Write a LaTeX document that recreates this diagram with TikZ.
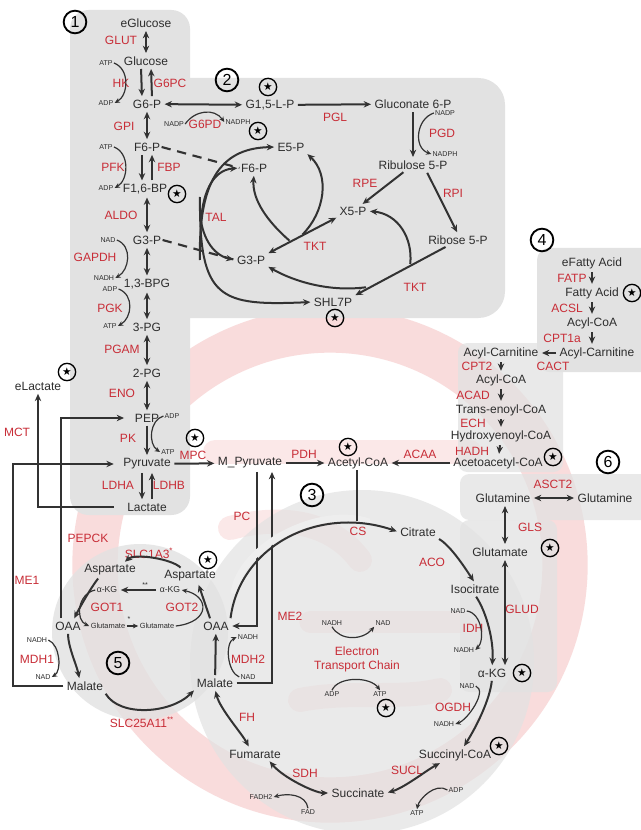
\documentclass[tikz,border=0pt]{standalone}
\usepackage{fontspec}
\setmainfont{Liberation Sans}
\newfontfamily\djv{DejaVu Sans}
\usetikzlibrary{arrows.meta,calc}
\definecolor{enz}{RGB}{200,45,55}
\definecolor{mtx}{RGB}{45,45,45}
\definecolor{arcol}{RGB}{50,50,50}
\definecolor{panel}{RGB}{226,226,226}
\definecolor{mito}{RGB}{225,80,80}
\begin{document}
\begin{tikzpicture}[x=0.75pt,y=-0.75pt,
  met/.style={text=mtx,font=\fontsize{9}{10}\selectfont,inner sep=1pt},
  smet/.style={text=mtx,font=\fontsize{6.5}{7}\selectfont,inner sep=1pt},
  tmet/.style={text=mtx,font=\fontsize{5.6}{6}\selectfont,inner sep=1pt},
  enzl/.style={text=enz,font=\fontsize{9}{10}\selectfont,inner sep=1pt},
  cof/.style={text=mtx,font=\fontsize{5.3}{6}\selectfont,inner sep=0.8pt},
  num/.style={circle,draw=black,line width=1.4pt,minimum size=17pt,inner sep=0pt,font=\fontsize{12}{12}\selectfont},
  starc/.style={circle,draw=black,line width=1pt,minimum size=13pt,inner sep=0pt,font=\djv\fontsize{8}{8}\selectfont},
  ar/.style={draw=arcol,line width=1.5pt,shorten >=1.5pt,shorten <=1.5pt,-{Stealth[length=5.5pt,width=4.8pt]}},
  dar/.style={draw=arcol,line width=1.5pt,shorten >=1.5pt,shorten <=1.5pt,{Stealth[length=5.5pt,width=4.8pt]}-{Stealth[length=5.5pt,width=4.8pt]}},
  ln/.style={draw=arcol,line width=1.5pt},
  car/.style={draw=arcol,line width=0.9pt,-{Stealth[length=4pt,width=3.6pt]}},
  dsh/.style={draw=arcol,line width=1.6pt,dash pattern=on 7pt off 5pt},
]
\useasboundingbox (0,0) rectangle (641,830);
\fill[white] (0,0) rectangle (641,830);
% mitochondrion background
\draw[mito,opacity=0.2,line width=34pt] (330,565) circle (235);
\draw[mito,opacity=0.13,line width=18pt,line cap=round] (215,452) -- (470,452);
\draw[mito,opacity=0.13,line width=16pt,line cap=round] (310,622) -- (460,622);
\draw[mito,opacity=0.13,line width=18pt,line cap=round] (230,528) .. controls (280,515) and (330,520) .. (360,560);
\draw[mito,opacity=0.13,line width=18pt,line cap=round] (300,700) .. controls (350,690) and (400,700) .. (440,690);
% panels
\fill[panel,rounded corners=14pt] (70,10) rectangle (190,515);
\fill[panel,rounded corners=20pt] (160,78) rectangle (505,318);
\fill[panel,rounded corners=9pt] (537,248) rectangle (660,372);
\fill[panel,opacity=0.75,rounded corners=7pt] (458,343) rectangle (563,472);
\fill[panel,opacity=0.75,rounded corners=7pt] (460,474) rectangle (660,520);
\fill[panel,opacity=0.75,rounded corners=7pt] (460,520) rectangle (557,692);
\fill[panel,opacity=0.7] (362,662) circle (172);
\fill[panel,opacity=0.8] (140,632) circle (88);

% circled numbers
\node[num] (c1) at (75,22) {1};
\node[num] (c2) at (227,80) {2};
\node[num] (c3) at (312,495) {3};
\node[num] (c4) at (542,240) {4};
\node[num] (c5) at (118,663) {5};
\node[num] (c6) at (608,462) {6};

% stars
\node[starc] (s1) at (268,87) {★};
\node[starc] (s2) at (258,131) {★};
\node[starc] (s3) at (177,194) {★};
\node[starc] (s4) at (335,318) {★};
\node[starc] (s5) at (67,372) {★};
\node[starc] (s6) at (195,438) {★};
\node[starc] (s7) at (348,447) {★};
\node[starc] (s8) at (632,293) {★};
\node[starc] (s9) at (553,457) {★};
\node[starc] (s10) at (550,548) {★};
\node[starc] (s11) at (208,560) {★};
\node[starc] (s12) at (522,673) {★};
\node[starc] (s13) at (386,708) {★};
\node[starc] (s14) at (499,746) {★};

% glycolysis
\node[met] (eglc) at (146,23) {eGlucose};
\node[enzl] (glut) at (121,40) {GLUT};
\node[met] (glc) at (146,61) {Glucose};
\node[cof] (atp1) at (106,63) {ATP};
\node[enzl] (hk) at (121,83) {HK};
\node[enzl] (g6pc) at (170,83) {G6PC};
\node[cof] (adp1) at (106,103) {ADP};
\node[met] (g6p) at (147,104) {G6-P};
\node[enzl] (gpi) at (124,126) {GPI};
\node[met] (f6p) at (147,147) {F6-P};
\node[cof] (atp2) at (106,147) {ATP};
\node[enzl] (pfk) at (113,167) {PFK};
\node[enzl] (fbp) at (169,167) {FBP};
\node[cof] (adp2) at (106,188) {ADP};
\node[met] (f16bp) at (145,189) {F1,6-BP};
\node[enzl] (aldo) at (121,215) {ALDO};
\node[met] (g3p) at (147,240) {G3-P};
\node[cof] (nad1) at (108,240) {NAD};
\node[enzl] (gapdh) at (95,257) {GAPDH};
\node[cof] (nadh1) at (104,278) {NADH};
\node[met] (bpg) at (147,284) {1,3-BPG};
\node[cof] (adp3) at (110,289) {ADP};
\node[enzl] (pgk) at (110,308) {PGK};
\node[cof] (atp3) at (110,326) {ATP};
\node[met] (pg3) at (147,327) {3-PG};
\node[enzl] (pgam) at (122,349) {PGAM};
\node[met] (pg2) at (147,373) {2-PG};
\node[enzl] (eno) at (122,393) {ENO};
\node[met] (pep) at (147,418) {PEP};
\node[cof] (adp4) at (172,416) {ADP};
\node[enzl] (pk) at (128,438) {PK};
\node[cof] (atp4) at (168,452) {ATP};
\node[enzl] (mpc) at (193,455) {MPC};
\node[met] (pyr) at (147,464) {Pyruvate};
\node[enzl] (ldha) at (118,485) {LDHA};
\node[enzl] (ldhb) at (169,485) {LDHB};
\node[met] (lac) at (147,507) {Lactate};
\node[met] (elac) at (38,386) {eLactate};
\node[enzl] (mct) at (17,432) {MCT};
\node[enzl] (me1) at (27,580) {ME1};
\node[enzl] (pepck) at (88,538) {PEPCK};

% PPP
\node[enzl] (g6pd) at (205,124) {G6PD};
\node[cof] (nadp1) at (174,124) {NADP};
\node[cof] (nadph1) at (238,122) {NADPH};
\node[met] (g15) at (270,105) {G1,5-L-P};
\node[enzl] (pgl) at (335,117) {PGL};
\node[met] (gl6p) at (413,104) {Gluconate 6-P};
\node[cof] (nadp2) at (445,113) {NADP};
\node[enzl] (pgd) at (442,133) {PGD};
\node[cof] (nadph2) at (445,154) {NADPH};
\node[met] (ru5p) at (413,165) {Ribulose 5-P};
\node[enzl] (rpe) at (365,183) {RPE};
\node[enzl] (rpi) at (453,193) {RPI};
\node[met] (x5p) at (353,211) {X5-P};
\node[met] (r5p) at (458,240) {Ribose 5-P};
\node[met] (e5p) at (291,147) {E5-P};
\node[met] (f6pb) at (254,168) {F6-P};
\node[enzl] (tal) at (216,217) {TAL};
\node[met] (g3pb) at (251,260) {G3-P};
\node[enzl] (tkt1) at (315,246) {TKT};
\node[enzl] (tkt2) at (415,287) {TKT};
\node[met] (shl) at (333,302) {SHL7P};

% fatty acids
\node[met] (efa) at (592,263) {eFatty Acid};
\node[enzl] (fatp) at (572,278) {FATP};
\node[met] (fa) at (592,293) {Fatty Acid};
\node[enzl] (acsl) at (567,308) {ACSL};
\node[met] (acoa1) at (592,323) {Acyl-CoA};
\node[enzl] (cpt1) at (562,338) {CPT1a};
\node[met] (acarr) at (597,353) {Acyl-Carnitine};
\node[met] (acarl) at (501,353) {Acyl-Carnitine};
\node[enzl] (cact) at (553,366) {CACT};
\node[enzl] (cpt2) at (477,366) {CPT2};
\node[met] (acoa2) at (501,380) {Acyl-CoA};
\node[enzl] (acad) at (473,395) {ACAD};
\node[met] (teco) at (501,410) {Trans-enoyl-CoA};
\node[enzl] (ech) at (473,423) {ECH};
\node[met] (hyco) at (501,436) {Hydroxyenoyl-CoA};
\node[enzl] (hadh) at (472,451) {HADH};
\node[met] (acacoa) at (498,463) {Acetoacetyl-CoA};

% glutamine
\node[enzl] (asct2) at (553,484) {ASCT2};
\node[met] (glnl) at (503,498) {Glutamine};
\node[met] (glnr) at (605,498) {Glutamine};
\node[enzl] (gls) at (530,527) {GLS};
\node[met] (glu) at (500,552) {Glutamate};
\node[enzl] (glud) at (522,609) {GLUD};

% TCA
\node[met] (mpyr) at (250,463) {M\_Pyruvate};
\node[enzl] (pdh) at (304,454) {PDH};
\node[met] (acoa) at (358,463) {Acetyl-CoA};
\node[enzl] (acaa) at (420,454) {ACAA};
\node[enzl] (pc) at (242,516) {PC};
\node[enzl] (me2) at (290,616) {ME2};
\node[enzl] (cs) at (358,531) {CS};
\node[met] (cit) at (418,532) {Citrate};
\node[enzl] (aco) at (432,562) {ACO};
\node[met] (icit) at (475,589) {Isocitrate};
\node[cof] (nadidh) at (458,611) {NAD};
\node[enzl] (idh) at (473,628) {IDH};
\node[cof] (nadhidh) at (464,650) {NADH};
\node[met] (akg) at (492,673) {α-KG};
\node[enzl] (ogdh) at (453,707) {OGDH};
\node[cof] (nadog) at (467,686) {NAD};
\node[cof] (nadhog) at (444,724) {NADH};
\node[met] (succoa) at (455,755) {Succinyl-CoA};
\node[enzl] (sucl) at (407,770) {SUCL};
\node[cof] (adps) at (456,790) {ADP};
\node[cof] (atps) at (417,813) {ATP};
\node[met] (succ) at (358,793) {Succinate};
\node[enzl] (sdh) at (305,773) {SDH};
\node[cof] (fadh2) at (261,797) {FADH2};
\node[cof] (fad) at (308,812) {FAD};
\node[met] (fum) at (255,754) {Fumarate};
\node[enzl] (fh) at (247,717) {FH};
\node[met] (malr) at (215,683) {Malate};
\node[met] (oaar) at (216,626) {OAA};
\node[enzl] (mdh2) at (248,659) {MDH2};
\node[cof] (nadhr) at (248,637) {NADH};
\node[cof] (nadr) at (248,677) {NAD};
\node[cof] (nadhe) at (332,623) {NADH};
\node[cof] (nade) at (383,623) {NAD};
\node[enzl,align=center,font=\fontsize{9}{10.5}\selectfont] (etc) at (357,659) {Electron\\Transport Chain};
\node[cof] (adpe) at (332,694) {ADP};
\node[cof] (atpe) at (380,694) {ATP};

% malate-aspartate shuttle
\node[met] (oaal) at (68,626) {OAA};
\node[met] (mall) at (85,686) {Malate};
\node[met] (aspl) at (110,570) {Aspartate};
\node[met] (aspr) at (190,576) {Aspartate};
\node[smet] (akgl) at (107,590) {α-KG};
\node[smet] (akgr) at (170,590) {α-KG};
\node[enzl] (got1) at (107,607) {GOT1};
\node[enzl] (got2) at (182,607) {GOT2};
\node[tmet] (glul) at (108,626) {Glutamate};
\node[tmet] (glur) at (157,626) {Glutamate};
\node[enzl] (slc1) at (149,553) {SLC1A3\textsuperscript{*}};
\node[enzl] (slc25) at (142,722) {SLC25A11\textsuperscript{**}};
\node[cof] (ast2) at (145,585) {**};
\node[cof] (ast1) at (129,619) {*};
\node[cof] (nadhl) at (37,640) {NADH};
\node[enzl] (mdh1) at (37,659) {MDH1};
\node[cof] (nadl) at (43,677) {NAD};

% ---- connectors: glycolysis
\draw[dar] (eglc) -- (glc);
\draw[ar] ([xshift=-3.75pt]glc.south) -- ([xshift=-3.75pt]g6p.north);
\draw[ar] ([xshift=3.75pt]g6p.north) -- ([xshift=3.75pt]glc.south);
\draw[car] (atp1.east) .. controls +(16,6) and +(14,-8) .. (adp1.east);
\draw[dar] (g6p) -- (g15);
\draw[car] (nadp1.east) .. controls +(10,-14) and +(-10,-14) .. (nadph1.west);
\draw[dar] (g6p) -- (f6p);
\draw[ar] ([xshift=-3.75pt]f6p.south) -- ([xshift=-3.75pt]f6p.south |- f16bp.north);
\draw[ar] ([xshift=3.75pt]f6p.south |- f16bp.north) -- ([xshift=3.75pt]f6p.south);
\draw[car] (atp2.east) .. controls +(16,6) and +(14,-8) .. (adp2.east);
\draw[dar] (f16bp.south -| g3p) -- (g3p);
\draw[dar] (g3p) -- (bpg);
\draw[car] (nad1.east) .. controls +(16,6) and +(14,-8) .. (nadh1.east);
\draw[dar] (bpg) -- (pg3);
\draw[car] (adp3.east) .. controls +(16,6) and +(14,-8) .. (atp3.east);
\draw[dar] (pg3) -- (pg2);
\draw[dar] (pg2) -- (pep);
\draw[ar] (pep) -- (pyr);
\draw[car] (adp4.west) .. controls +(-14,4) and +(-12,-8) .. (atp4.west);
\draw[ar] (pyr) -- (mpyr);
\draw[ar] ([xshift=-3.75pt]pyr.south) -- ([xshift=-3.75pt]lac.north);
\draw[ar] ([xshift=3.75pt]lac.north) -- ([xshift=3.75pt]pyr.south);
\draw[ar,shorten <=9pt] (lac.west) -| (elac.south);
\coordinate (cme1) at (13,464);
\draw[ar,shorten >=6pt] (mall.west) -| (cme1) -- (pyr.west);
\coordinate (cpep) at (61,418);
\draw[ar,shorten >=7pt] (oaal.north -| cpep) -- (cpep) -- (pep.west);

% dashed links to PPP
\draw[dsh] (f6p.east) -- (f6pb.west);
\draw[dsh] (g3p.east) -- (g3pb.west);

% PPP
\draw[ar] (g15) -- (gl6p);
\draw[ar] (gl6p) -- (ru5p);
\draw[car] (nadp2.west) .. controls +(-18,6) and +(-18,-6) .. (nadph2.west);
\draw[ar] ([xshift=-6pt]ru5p.south) -- ([xshift=6pt]x5p.north);
\draw[ar] ([xshift=10pt]ru5p.south) -- (r5p.north);
\draw[dar] (g3pb.north east) -- (x5p.south west);
\coordinate (tk1) at (291,242);
\coordinate (tk2) at (301,236);
\draw[ar] (tk1) .. controls (268,222) and (252,200) .. (f6pb.south);
\draw[ar] (tk2) .. controls (325,212) and (330,175) .. (e5p.south east);
\draw[ar] ([xshift=-8pt]r5p.south) -- (shl.north east);
\coordinate (tk3) at (410,266);
\coordinate (tk4) at (368,287);
\draw[ar] (tk3) .. controls (413,238) and (398,214) .. (x5p.east);
\draw[ar] (tk4) .. controls (330,292) and (295,282) .. (g3pb.south east);
\coordinate (tal1) at (200,262);
\coordinate (tal2) at (201,230);
\coordinate (tal3) at (200,210);
\coordinate (tal4) at (200,195);
\draw[ar] (tal1) .. controls (198,175) and (225,148) .. (e5p.west);
\draw[ar] (tal2) .. controls (201,195) and (212,170) .. (f6pb.west);
\draw[ar] (tal3) .. controls (201,235) and (212,255) .. (g3pb.west);
\draw[ar] (tal4) .. controls (199,300) and (220,306) .. (shl.west);

% fatty acids
\draw[ar] (efa) -- (fa);
\draw[ar] (fa) -- (acoa1);
\draw[ar] (acoa1.south) -- (acoa1.south |- acarr.north);
\draw[ar] (acarr) -- (acarl);
\draw[ar] (acarl) -- (acoa2);
\draw[ar] (acoa2) -- (teco);
\draw[ar] (teco) -- (hyco);
\draw[ar] (hyco) -- (acacoa);
\draw[ar] (acacoa) -- (acoa);

% glutamine
\coordinate (cglud) at (505,600);
\draw[dar] (glnl) -- (glnr);
\draw[dar] (glnl.south -| cglud) -- (glu.north -| cglud);
\draw[dar] (glu.south -| cglud) -- (akg.north -| cglud);

% TCA
\draw[ar] (mpyr) -- (acoa);
\coordinate (cpc) at (257,626);
\draw[ar] (mpyr.south -| cpc) -- (cpc) -- (oaar.east);
\coordinate (cme2) at (272,685);
\draw[ar] (malr.east) -- (malr.east -| cme2) -- (mpyr.south -| cme2);
\draw[ar,preaction={draw=panel!60!white,line width=5pt,shorten >=20pt,shorten <=20pt}] (oaar.north east) .. controls (240,545) and (320,505) .. (cit.west);
\coordinate (ccs) at (357,521);
\draw[ln] (acoa.south -| ccs) -- (ccs);
\draw[ar] (cit.south east) .. controls +(14,8) and +(-8,-12) .. (icit.north);
\draw[ar] (icit.south) .. controls +(12,18) and +(2,-25) .. (akg.north);
\draw[car] (nadidh.east) .. controls +(15,2) and +(10,-10) .. (nadhidh.east);
\draw[ar] (akg.south) .. controls +(-2,20) and +(14,-22) .. ([xshift=6pt]succoa.north);
\draw[car] (nadog.east) .. controls +(12,5) and +(12,-4) .. (nadhog.east);
\draw[dar] ([xshift=-10pt]succoa.south) .. controls +(-15,8) and +(18,-5) .. (succ.east);
\draw[car] (adps.west) .. controls +(-12,-8) and +(2,-10) .. (atps.north);
\draw[dar] ([xshift=10pt]fum.south) .. controls +(15,18) and +(-15,0) .. (succ.west);
\draw[car] (fad.north) .. controls +(-2,-14) and +(14,-4) .. (fadh2.east);
\draw[dar] (malr.south) .. controls +(5,20) and +(-8,-15) .. ([xshift=-4pt]fum.north);
\draw[ar] (malr) -- (oaar);
\draw[car] (nadr.west) .. controls +(-12,-5) and +(-12,6) .. (nadhr.west);
\draw[car] (nadhe.south) .. controls +(8,14) and +(-12,14) .. (nade.south west);
\draw[car] (adpe.north) .. controls +(6,-14) and +(-10,-14) .. (atpe.north);

% malate-aspartate shuttle
\draw[ar] ([xshift=-4pt]oaar.north) -- ([xshift=6pt]aspr.south);
\draw[ar] ([xshift=-6pt]aspr.north) .. controls +(-10,-10) and +(12,-10) .. ([xshift=10pt]aspl.north);
\draw[ar,line width=1.2pt] (akgr) -- (akgl);
\draw[ar] ([xshift=-8pt]aspl.south) .. controls +(-8,10) and +(6,-12) .. ([xshift=4pt]oaal.north);
\draw[car] (akgl.west) .. controls +(-18,4) and +(-14,-6) .. (glul.west);
\draw[car] (glur.east) .. controls +(35,-4) and +(28,6) .. (akgr.east);
\draw[car,line width=1.1pt] (glul) -- (glur);
\draw[ar] (oaal.south) .. controls +(0,15) and +(-3,-15) .. ([xshift=-4pt]mall.north);
\draw[car] (nadhl.east) .. controls +(12,5) and +(10,-6) .. (nadl.east);
\draw[ar] (mall.south east) .. controls +(15,25) and +(-25,25) .. (malr.south west);
\end{tikzpicture}
\end{document}
